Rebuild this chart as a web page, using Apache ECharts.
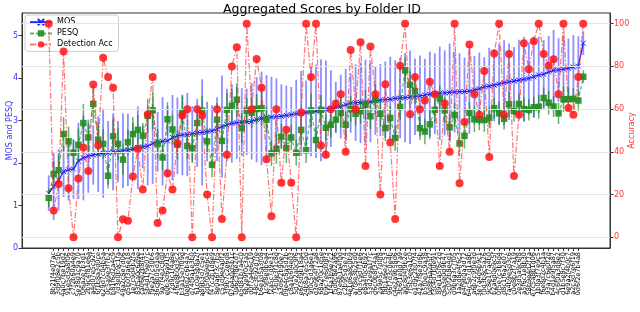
<!DOCTYPE html>
<html>
<head>
<meta charset="utf-8">
<script src="https://cdn.jsdelivr.net/npm/echarts@6/dist/echarts.min.js"></script>
<style>html,body{margin:0;padding:0;background:#fff}#c{width:640px;height:312px}</style>
</head>
<body>
<div id="c"></div>
<script>
var folderIds = ['27ca1d0d41e','8b21f4e07ac','3d9f08e2c5b','4a0c7be19d2','91e5d3a8f06','c7f2b60a4e9','5e38d1c9a70','f06a2e7b3d1','2b9c4f81e6a','a4d07e5c92f',
'6f1b8a3d0ce','e29d7c04b5a','0c5a9e3f7b2','b81f6d2a4c9','7d3e0b9c1fa','49a2c8e7d06','d5b0f3a6e18','1e7c9d4b2fa','83f5a0c6d9e','ca06e2b8f41',
'5b4d1f9e07c','f9e2a7c30b6','36c8b05d1ea','9a7f4e2c8d0','e0b3d6a91f5','72d9c1f4a8e','4f6e8b0d3c2','b3a15e7f09d','0e8d2c6b4a7','d74f9a1e3b0',
'61c0e5b8a2f','a89b3d7c5e1','2d5f0a9e6c4','f47c2b1d8e9','8e0a6f3c7b5','c51d9e4a0f2','3f9b7c2e6d8','97e4a0d5b1c','0a6c3f8e2d7','e5d81b7a4c0',
'6b2e9f0c3a5','d0f7a4e6c19','48c3b92d7fe','b6e1d5a3f08','1c9f8e0b6a4','f2a5c7d9e31','75b0e3f1c8d','a3d6f2b90e7','09e4c8a5d2b','c8a1b6f4e03',
'5d7e2a0c9f6','e6f3d9b18a4','24b8a7e5c0d','9f0c5d3a6e1','d3e9b4f72a8','68a2f0c1d5e','b9c7e6d08f3','1f4a3b9e7c2','f5d0c8e2a96','87e6b1a4f0d',
'c2b9f5d3e74','4e1d6a8c0b9','a7f8e3b25d0','0b3c9d7f1e6','e8a4f0c6b92','53d2e9a1f7c','d6c0b8f34a1','2a9e5c7d0f8','f8b1a6e2c53','96f7d3c0e4b',
'c4e2a9b58d6','3b6f1e0d7a9','a0c8d4f9b2e','7f5b3e6a1c0','e1d9c2b07f4','42a7f8e3d6b','b5f0e1c9a38','0d8b6a2e5f7','f3c4d7b0e91','89e1a5f6c2d',
'c6a3e0d9b47','5c0f2b8e4d1','d9b6a3c7f05','1a2d8e4f6c3','e4f9b0a3d72','64c5e7d1a8b','a6b2c9f0e3d','3e7a4d6b9c1','f0d3b8c5a26','9c8e1f7a4b0',
'b2a6d0e9c5f','0f5e7c3b8d4','d8c1f6a2e07','7a4b9e5d3c6','c0e8b2f7a19','2e3d5a9c6f8','a5f6c1e8b30','58b9e4d2f7a','e7c5a8b1d06','1b0a3f7e9c5',
'f6e8d2c4b1a','93a7c6e0f2d','b4d1e9f5a87','4c6f0a3d8e2','d1b5e8c7f30','6e9a2f4b0c7','a2c3d7e6f19','0d6f2e7b4a8','fd1f642975'];

var mosMean = [1.29,1.45,1.6,1.8,1.84,1.86,2.05,2.12,2.16,2.19,
2.21,2.23,2.24,2.26,2.27,2.29,2.31,2.33,2.36,2.38,
2.4,2.46,2.5,2.51,2.52,2.6,2.64,2.66,2.67,2.69,
2.71,2.72,2.74,2.76,2.8,2.86,2.9,2.93,2.95,2.96,
2.97,2.98,3.02,3.05,3.07,3.08,3.09,3.1,3.12,3.14,
3.16,3.17,3.19,3.21,3.22,3.24,3.26,3.28,3.31,3.33,
3.37,3.41,3.42,3.42,3.43,3.44,3.46,3.48,3.49,3.5,
3.52,3.53,3.54,3.55,3.56,3.58,3.6,3.62,3.63,3.64,
3.65,3.66,3.67,3.68,3.68,3.69,3.72,3.75,3.79,3.81,
3.83,3.86,3.89,3.91,3.93,3.95,3.97,3.99,4.03,4.07,
4.09,4.14,4.18,4.19,4.21,4.23,4.26,4.28,4.82];

var mosErr = [0.42,0.79,0.72,0.6,0.72,0.7,0.9,1.0,0.86,0.7,
0.89,1.05,0.75,0.9,0.72,0.88,0.85,0.62,0.97,0.5,
0.93,0.95,0.7,1.04,0.82,1.0,0.9,0.95,0.98,0.65,
0.8,1.25,0.7,0.6,0.75,1.2,0.85,0.92,0.85,0.8,
0.78,0.9,1.0,1.1,1.0,0.95,0.9,0.75,0.7,0.65,
0.8,1.0,0.75,1.05,1.1,1.2,1.15,0.9,0.6,0.75,
0.85,0.7,0.9,0.95,1.0,0.95,0.8,0.85,0.9,1.0,
0.9,0.95,1.05,1.1,0.9,0.95,0.85,1.0,0.95,1.1,
1.0,1.15,0.95,0.9,0.8,1.0,0.8,0.85,0.7,0.9,
0.85,0.95,1.0,0.9,0.8,0.95,1.0,0.85,0.95,0.9,
0.8,0.85,0.95,0.75,0.8,0.7,0.75,0.7,0.28];

var pesqMean = [1.18,1.74,1.83,2.68,2.51,2.24,2.43,2.94,2.6,3.39,
2.55,2.45,1.7,2.63,2.45,2.08,2.49,2.68,2.78,2.64,
3.11,3.24,2.45,2.13,3.03,2.79,2.43,3.18,2.4,2.35,
2.94,3.23,2.51,1.96,3.02,2.52,3.25,3.35,3.49,2.82,
3.23,3.18,3.27,3.29,3.02,2.23,2.33,2.62,2.35,2.6,
2.24,2.78,2.3,3.24,2.54,3.25,2.83,2.9,3.02,3.18,
2.9,3.27,3.16,3.22,3.37,3.1,3.49,3.16,2.82,3.06,
2.59,3.32,4.18,3.84,3.69,2.82,2.74,2.91,3.25,3.52,
3.24,2.84,3.13,2.46,2.64,3.18,3.03,3.02,3.01,3.06,
3.29,3.17,3.04,3.38,3.22,3.39,3.27,3.25,3.31,3.32,
3.53,3.42,3.33,3.17,3.5,3.5,3.51,3.47,4.03];

var pesqErr = [0.22,0.3,0.35,0.4,0.35,0.3,0.38,0.45,0.35,0.45,
0.4,0.35,0.3,0.4,0.38,0.35,0.3,0.4,0.35,0.3,
0.4,0.45,0.35,0.3,0.4,0.35,0.35,0.4,0.3,0.35,
0.4,0.35,0.3,0.3,0.4,0.35,0.4,0.38,0.4,0.35,
0.3,0.35,0.35,0.4,0.3,0.3,0.35,0.3,0.35,0.3,
0.3,0.35,0.3,0.4,0.3,0.35,0.3,0.3,0.3,0.35,
0.3,0.3,0.28,0.3,0.35,0.3,0.35,0.3,0.3,0.28,
0.3,0.3,0.3,0.32,0.3,0.28,0.3,0.35,0.3,0.3,
0.3,0.3,0.28,0.3,0.3,0.25,0.3,0.25,0.28,0.25,
0.25,0.28,0.25,0.3,0.25,0.25,0.28,0.25,0.25,0.28,
0.25,0.28,0.25,0.25,0.3,0.28,0.25,0.25,0.15];

var detectionAcc = [100,12.5,25,87,23,0,27.5,42,31,71.5,
43,84,75,70,0,8.5,7.7,28.5,41.4,22.4,
57.5,75,6.7,12.5,30,22.4,44,57,60,0,
60,57,20,0,60,8.6,38.7,80,89,0,
100,60,83.5,70,36.5,9.9,60,25.5,50.4,25.5,
0,58.4,100,75,100,43,38.7,60,62.6,67,
40,87.7,60,91.3,33.4,89.3,67,20,71.6,44.4,
8.6,80.3,100,57.6,75,60,64,72.8,67,33.4,
62.6,40,100,25.3,54,90.3,67,57.4,77.8,37.6,
86,100,57.4,85.8,28.7,57.4,90.8,78.7,91.8,100,
85.8,80.3,83.3,67,100,60.5,57.4,75,100];

var leftTicks = [0,1,2,3,4,5];
var rightTicks = [0,20,40,60,80,100];

var idx = folderIds.map(function(_, i){ return i; });
var n = folderIds.length;
var pad = 0.05 * (n - 1);

function errSeries(name, mean, err, color, width, z) {
  return {
    type: 'custom', name: name, yAxisIndex: 0, z: z, silent: true,
    data: mean.map(function(v, i){ return [i, v, err[i]]; }),
    encode: {x: 0, y: 1},
    renderItem: function(params, api) {
      var x = api.value(0), y = api.value(1), e = api.value(2);
      var p1 = api.coord([x, y - e]), p2 = api.coord([x, y + e]);
      return {type: 'line', shape: {x1: p1[0], y1: p1[1], x2: p2[0], y2: p2[1]},
              style: {stroke: color, lineWidth: width}};
    }
  };
}

var chart = echarts.init(document.getElementById('c'), null, {renderer: 'canvas'});
chart.setOption({
  animation: false,
  backgroundColor: '#fff',
  textStyle: {fontFamily: 'DejaVu Sans'},
  title: {text: 'Aggregated Scores by Folder ID', left: 218, top: -2,
          textStyle: {fontSize: 12.5, fontWeight: 'normal', color: '#000', fontFamily: 'DejaVu Sans'}},
  grid: {left: 22, right: 30, top: 13, bottom: 64, show: true, borderColor: '#333', borderWidth: 1,
         backgroundColor: 'transparent', containLabel: false, outerBoundsMode: 'none'},
  legend: {
    data: ['MOS', 'PESQ', 'Detection Acc'], orient: 'vertical', left: 25, top: 15,
    itemWidth: 22, itemHeight: 8, itemGap: 3, padding: [3, 6, 3, 4],
    backgroundColor: 'rgba(255,255,255,0.85)', borderColor: '#ccc', borderWidth: 1, borderRadius: 3,
    textStyle: {fontSize: 8, color: '#000'}
  },
  xAxis: {
    type: 'value', min: -pad, max: n - 1 + pad,
    axisLine: {show: true, onZero: false, lineStyle: {color: '#333'}},
    axisTick: {show: true, customValues: idx, length: 3, lineStyle: {color: '#333'}},
    axisLabel: {show: true, customValues: idx, rotate: 90, fontSize: 6.5, color: '#000', margin: 4,
                formatter: function(v){ return folderIds[Math.round(v)] || ''; }},
    splitLine: {show: false}
  },
  yAxis: [
    {type: 'value', min: 0, max: 5.53, position: 'left',
     name: 'MOS and PESQ', nameLocation: 'middle', nameGap: 8, nameMoveOverlap: false,
     nameTextStyle: {color: '#3333ff', fontSize: 8},
     axisLine: {show: true, onZero: false, lineStyle: {color: '#333'}},
     axisTick: {show: true, customValues: leftTicks, length: 3.5, lineStyle: {color: '#333'}},
     axisLabel: {customValues: leftTicks, color: '#3333ff', fontSize: 8, margin: 4},
     splitLine: {show: false}},
    {type: 'value', min: -5, max: 105, position: 'right',
     name: 'Accuracy', nameLocation: 'middle', nameGap: 18, nameMoveOverlap: false,
     nameTextStyle: {color: '#ff3333', fontSize: 8},
     axisLine: {show: true, onZero: false, lineStyle: {color: '#333'}},
     axisTick: {show: true, customValues: rightTicks, length: 3.5, lineStyle: {color: '#333'}},
     axisLabel: {customValues: rightTicks, color: '#ff3333', fontSize: 8, margin: 4},
     splitLine: {show: false}}
  ],
  series: [
    {type: 'line', name: 'grid', yAxisIndex: 1, data: [], z: 0, silent: true,
     markLine: {silent: true, symbol: 'none', label: {show: false},
                lineStyle: {color: '#e6e6e6', width: 1, type: 'solid'},
                data: rightTicks.map(function(t){ return {yAxis: t}; })}},
    errSeries('MOSerr', mosMean, mosErr, 'rgba(50,50,255,0.55)', 1.8, 1),
    {type: 'line', name: 'MOS', yAxisIndex: 0, z: 2,
     data: mosMean.map(function(v, i){ return [i, v]; }),
     symbol: 'path://M0,0L10,10M10,0L0,10', symbolSize: 5,
     itemStyle: {color: '#2020ff', borderColor: '#2020ff', borderWidth: 1},
     lineStyle: {color: '#2020ff', width: 1.3}},
    errSeries('PESQerr', pesqMean, pesqErr, 'rgba(0,128,0,0.6)', 1.5, 3),
    {type: 'line', name: 'PESQ', yAxisIndex: 0, z: 4,
     data: pesqMean.map(function(v, i){ return [i, v]; }),
     symbol: 'rect', symbolSize: 6.5,
     itemStyle: {color: '#1f8f1f', opacity: 0.9},
     lineStyle: {color: 'rgba(0,128,0,0.6)', width: 1.2, type: [4, 2]}},
    {type: 'line', name: 'Detection Acc', yAxisIndex: 1, z: 5,
     data: detectionAcc.map(function(v, i){ return [i, v]; }),
     symbol: 'circle', symbolSize: 8,
     itemStyle: {color: 'rgba(255,20,20,0.85)'},
     lineStyle: {color: 'rgba(255,40,40,0.65)', width: 1.2, type: [6, 2, 1.5, 2]}}
  ]
});
</script>
</body>
</html>
